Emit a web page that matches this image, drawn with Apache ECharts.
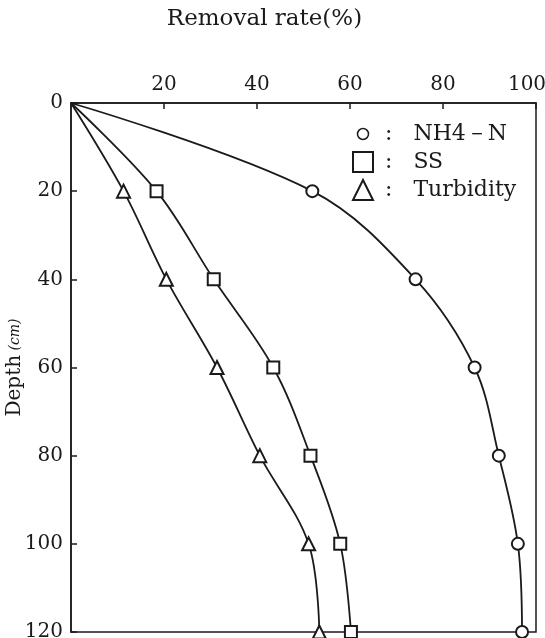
<!DOCTYPE html>
<html>
<head>
<meta charset="utf-8">
<script src="https://cdn.jsdelivr.net/npm/echarts@6/dist/echarts.min.js"></script>
<style>
  html, body { margin: 0; padding: 0; background: #fff; }
  #chart { width: 545px; height: 638px; }
</style>
</head>
<body>
<div id="chart"></div>
<script>
// depth (cm) for every measuring point, 0 = surface
const depths = [0, 20, 40, 60, 80, 100, 120];
// removal rate (%)
const nh4 = [0, 51.9, 74.1, 86.8, 92.0, 96.1, 97.0];
const ss = [0, 18.4, 30.7, 43.5, 51.5, 57.9, 60.2];
const turbidity = [0, 11.3, 20.5, 31.4, 40.6, 51.1, 53.4];
const names = ["NH4－N", "SS", "Turbidity"];

const ink = "#1a1a1a";
const serif = "DejaVu Serif";

// first point is the origin, no marker there
function toPoints(rates) {
  return depths.map((d, i) => {
    if (i === 0) return { value: [rates[i], d], symbol: "none" };
    return [rates[i], d];
  });
}

function makeSeries(name, rates, symbol, size) {
  return {
    name: name,
    type: "line",
    data: toPoints(rates),
    smooth: 0.35,
    symbol: symbol,
    symbolSize: size,
    showAllSymbol: true,
    lineStyle: { color: ink, width: 1.8 },
    itemStyle: { color: ink, borderColor: ink, borderWidth: 1.6 },
    emphasis: { disabled: true },
    z: 2,
  };
}

// small circle inside a 20x20 box, so the legend circle stays small
const smallCircle = "path://M0,0M20,20M4.5,10a5.5,5.5 0 1,0 11,0a5.5,5.5 0 1,0 -11,0z";
const hollow = { color: "#fff", borderColor: ink, borderWidth: 1.5 };

let myChart = echarts.init(document.getElementById("chart"));
myChart.setOption({
  backgroundColor: "#fff",
  animation: false,
  grid: {
    left: 71,
    right: 9,
    top: 103,
    bottom: 6,
    outerBoundsMode: "none",
    containLabel: false,
    show: true,
    borderColor: ink,
    borderWidth: 1.5,
    backgroundColor: "transparent",
  },
  legend: {
    orient: "vertical",
    left: 347,
    top: 118,
    itemWidth: 20,
    itemHeight: 20,
    itemGap: 6,
    textStyle: { fontFamily: serif, fontSize: 22, color: ink },
    formatter: (n) => " :   " + n,
    data: [
      { name: names[0], icon: smallCircle, itemStyle: hollow },
      { name: names[1], icon: "emptyRect" },
      { name: names[2], icon: "emptyTriangle" },
    ],
  },
  xAxis: {
    type: "value",
    position: "top",
    min: 0,
    max: 100,
    interval: 20,
    name: "Removal rate(%)",
    nameLocation: "middle",
    nameGap: 72,
    nameTextStyle: {
      fontFamily: serif,
      fontSize: 23,
      color: ink,
      padding: [0, 78, 0, 0],
    },
    axisLine: { lineStyle: { color: ink, width: 1.5 } },
    axisTick: { inside: true, length: 6, lineStyle: { color: ink, width: 1.5 } },
    axisLabel: {
      showMinLabel: false,
      fontFamily: serif,
      fontSize: 20,
      color: ink,
      margin: 8,
      formatter: (v) => (v === 100 ? "{m|100}" : String(v)),
      rich: {
        m: { fontFamily: serif, fontSize: 20, color: ink, padding: [0, 18, 0, 0] },
      },
    },
    splitLine: { show: false },
  },
  yAxis: {
    type: "value",
    inverse: true,
    min: 0,
    max: 120,
    interval: 20,
    name: "{a|Depth}{b| (cm)}",
    nameLocation: "middle",
    nameRotate: 90,
    nameGap: 46,
    nameMoveOverlap: false,
    nameTextStyle: {
      rich: {
        a: { fontFamily: serif, fontSize: 20, color: ink },
        b: { fontFamily: serif, fontSize: 14, fontStyle: "italic", color: ink },
      },
    },
    axisLine: { lineStyle: { color: ink, width: 1.5 } },
    axisTick: { inside: true, length: 6, lineStyle: { color: ink, width: 1.5 } },
    axisLabel: {
      fontFamily: serif,
      fontSize: 20,
      color: ink,
      margin: 8,
    },
    splitLine: { show: false },
  },
  series: [
    makeSeries(names[0], nh4, "emptyCircle", 12),
    makeSeries(names[1], ss, "emptyRect", 12),
    makeSeries(names[2], turbidity, "emptyTriangle", 13),
  ],
});
</script>
</body>
</html>
